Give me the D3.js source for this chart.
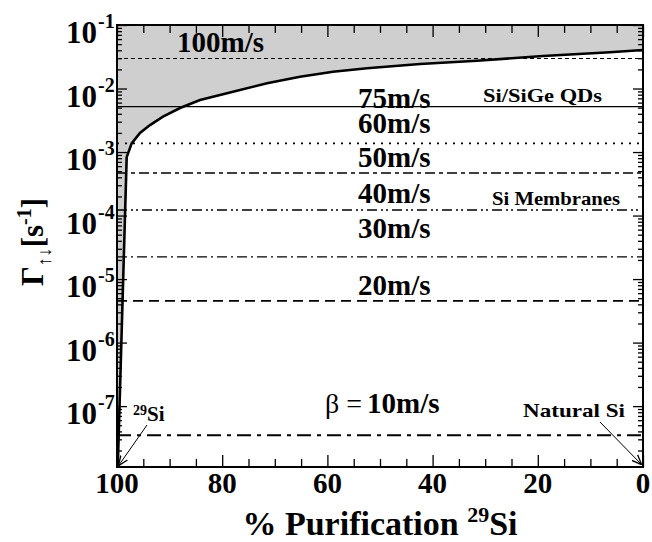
<!DOCTYPE html>
<html>
<head>
<meta charset="utf-8">
<script src="https://cdn.jsdelivr.net/npm/d3@7"></script>
<style>
  body { margin: 0; background: #fff; }
  svg text { font-family: "Liberation Serif", "DejaVu Serif", serif; font-weight: bold; fill: #000; }
</style>
</head>
<body>
<svg id="chart" width="652" height="542" style="font-family: 'Liberation Serif', 'DejaVu Serif', serif"></svg>
<script>
// ---- data ----
var purity = [99.85, 98.16, 97.21, 95.63, 93.73, 91.25, 88.02, 84.22, 77.95, 71.48, 65.21, 58.94, 52.47, 42.4, 31.56, 19.0, 6.27, 0];
var rate   = [1.1e-8, 8.3e-4, 1.37e-3, 2.0e-3, 2.66e-3, 3.6e-3, 4.93e-3, 6.6e-3, 8.9e-3, 1.21e-2, 1.53e-2, 1.84e-2, 2.08e-2, 2.43e-2, 2.74e-2, 3.25e-2, 3.72e-2, 4.04e-2];

var speeds     = [100, 75, 60, 50, 40, 30, 20, 10];
var speedRates = [2.97e-2, 5.17e-3, 1.37e-3, 4.67e-4, 1.22e-4, 2.24e-5, 4.55e-6, 3.49e-8];

var xTicks = [100, 80, 60, 40, 20, 0];
var yExps  = [-1, -2, -3, -4, -5, -6, -7];

// ---- layout ----
var svg = d3.select("#chart");
var pL = 117, pR = 643, pT = 25, pB = 467;
var FONT = "'Liberation Serif', 'DejaVu Serif', serif";

var x = d3.scaleLinear().domain([100, 0]).range([pL, pR]);
var y = d3.scaleLog().domain([1.1e-8, 0.1]).range([pB, pT]);

var curve = purity.map(function (p, i) { return [p, rate[i]]; });

function label(sel, size, weight) {
    return sel.style("font-family", FONT)
        .style("font-size", size + "px")
        .style("font-weight", weight || "bold");
}

/*========== shaded region above the curve ===========*/
var areaData = [[100, 1.1e-8]].concat(curve);
svg.append("path")
    .datum(areaData)
    .attr("fill", "#cfcfcf")
    .attr("d", d3.area()
        .x(function (d) { return x(d[0]); })
        .y0(pT)
        .y1(function (d) { return y(d[1]); }));

/*========== speed lines ===========*/
var lineDash  = ["4,3", null, "2,6", "10,4,4,4", "10,4,2,3,2,4", "10,4,2,4", "10,6", "14,6,4,6"];
var lineWidth = [1, 1.3, 1.6, 1.6, 1.4, 1.4, 1.8, 2];

svg.append("g")
    .selectAll("line")
    .data(speedRates)
    .enter()
    .append("line")
    .attr("x1", pL)
    .attr("x2", pR)
    .attr("y1", function (d) { return y(d); })
    .attr("y2", function (d) { return y(d); })
    .attr("stroke", "#000")
    .attr("stroke-width", function (d, i) { return lineWidth[i]; })
    .attr("stroke-dasharray", function (d, i) { return lineDash[i]; });

/*========== main curve ===========*/
svg.append("path")
    .datum(curve)
    .attr("fill", "none")
    .attr("stroke", "#000")
    .attr("stroke-width", 2.6)
    .attr("d", d3.line()
        .x(function (d) { return x(d[0]); })
        .y(function (d) { return y(d[1]); }));

/*========== axes (ticks inward) ===========*/
var minorY = [];
for (var e = -8; e < -1; e++) {
    for (var m = 2; m <= 9; m++) {
        var v = m * Math.pow(10, e);
        if (v > 1.1e-8 && v < 0.1) minorY.push(v);
    }
}
var majorY = yExps.map(function (k) { return Math.pow(10, k); });
var minorX = d3.range(0, 101, 5).filter(function (v) { return v % 20 !== 0; });

function tickAxis(axis, values, size) {
    return axis.tickValues(values).tickSize(size).tickFormat("");
}
var axes = [
    [d3.axisLeft(y), majorY, -10, pL, 0],
    [d3.axisLeft(y), minorY, -5, pL, 0],
    [d3.axisRight(y), majorY, -10, pR, 0],
    [d3.axisRight(y), minorY, -5, pR, 0],
    [d3.axisTop(x), xTicks, -12, 0, pT],
    [d3.axisTop(x), minorX, -8, 0, pT],
    [d3.axisBottom(x), xTicks, -12, 0, pB],
    [d3.axisBottom(x), minorX, -8, 0, pB]
];
axes.forEach(function (a) {
    var g = svg.append("g")
        .attr("transform", "translate(" + a[3] + "," + a[4] + ")")
        .call(tickAxis(a[0], a[1], a[2]));
    g.select(".domain").remove();
    g.selectAll(".tick line").attr("stroke-width", 1.3);
});

svg.append("rect")
    .attr("x", pL).attr("y", pT)
    .attr("width", pR - pL).attr("height", pB - pT)
    .attr("fill", "none").attr("stroke", "#000").attr("stroke-width", 2);

/*========== tick labels ===========*/
var yLab = svg.append("g").selectAll("g").data(yExps).enter().append("g");
label(yLab.append("text"), 31)
    .attr("x", 97)
    .attr("y", function (d) { return y(Math.pow(10, d)) + 18; })
    .attr("text-anchor", "end")
    .text("10");
label(yLab.append("text"), 20)
    .attr("x", 98)
    .attr("y", function (d) { return y(Math.pow(10, d)) + 3; })
    .text(function (d) { return "-" + Math.abs(d); });

label(svg.append("g").selectAll("text")
    .data(xTicks).enter().append("text"), 29)
    .attr("x", function (d) { return x(d); })
    .attr("y", 493)
    .attr("text-anchor", "middle")
    .text(function (d) { return d; });

/*========== axis titles ===========*/
var xt = label(svg.append("text"), 34)
    .attr("x", 380).attr("y", 535)
    .attr("text-anchor", "middle");
xt.append("tspan").text("% Purification ");
xt.append("tspan").attr("dy", -13).style("font-size", "22px").text("29");
xt.append("tspan").attr("dy", 13).text("Si");

var yt = label(svg.append("text"), 31)
    .attr("transform", "translate(43,242) rotate(-90)")
    .attr("text-anchor", "middle");
yt.append("tspan").text("Γ");
yt.append("tspan").attr("dy", 8).style("font-size", "19px").style("font-weight", "normal").text("↑↓");
yt.append("tspan").attr("dy", -8).text("[s");
yt.append("tspan").attr("dy", -12).style("font-size", "20px").text("-1");
yt.append("tspan").attr("dy", 12).text("]");

/*========== speed labels ===========*/
var labelX  = [177, 358, 358, 358, 358, 358, 358, 367];
var labelDy = [-6, 1, -10, -6, -7, -19, -6, -22];
label(svg.append("g").selectAll("text")
    .data(speeds).enter().append("text"), 29)
    .attr("x", function (d, i) { return labelX[i]; })
    .attr("y", function (d, i) { return y(speedRates[i]) + labelDy[i]; })
    .text(function (d) { return d + "m/s"; });

label(svg.append("text"), 28, "normal")
    .attr("x", 325).attr("y", y(speedRates[7]) - 22)
    .text("β =");

label(svg.append("text"), 18).attr("x", 483).attr("y", 102)
    .attr("textLength", 119).attr("lengthAdjust", "spacingAndGlyphs").text("Si/SiGe QDs");
label(svg.append("text"), 18).attr("x", 492).attr("y", 205)
    .attr("textLength", 128).attr("lengthAdjust", "spacingAndGlyphs").text("Si Membranes");

/*========== arrows ===========*/
svg.append("defs").append("marker")
    .attr("id", "head")
    .attr("viewBox", "0 0 10 10")
    .attr("refX", 9).attr("refY", 5)
    .attr("markerWidth", 10).attr("markerHeight", 10)
    .attr("markerUnits", "userSpaceOnUse")
    .attr("orient", "auto")
    .append("path")
    .attr("d", "M0,1 L10,5 L0,9")
    .attr("fill", "none").attr("stroke", "#000").attr("stroke-width", 1.3);

label(svg.append("text"), 19).attr("x", 523).attr("y", 417)
    .attr("textLength", 102).attr("lengthAdjust", "spacingAndGlyphs").text("Natural Si");
svg.append("line")
    .attr("x1", 600).attr("y1", 422).attr("x2", x(0) - 2).attr("y2", pB - 3)
    .attr("stroke", "#000").attr("stroke-width", 1).attr("marker-end", "url(#head)");

var si = label(svg.append("text"), 21).attr("x", 133).attr("y", 421);
si.append("tspan").attr("dy", -6).style("font-size", "14px").text("29");
si.append("tspan").attr("dy", 6).text("Si");
svg.append("line")
    .attr("x1", 147).attr("y1", 425).attr("x2", x(100) + 2).attr("y2", pB - 2)
    .attr("stroke", "#000").attr("stroke-width", 1).attr("marker-end", "url(#head)");
</script>
</body>
</html>
